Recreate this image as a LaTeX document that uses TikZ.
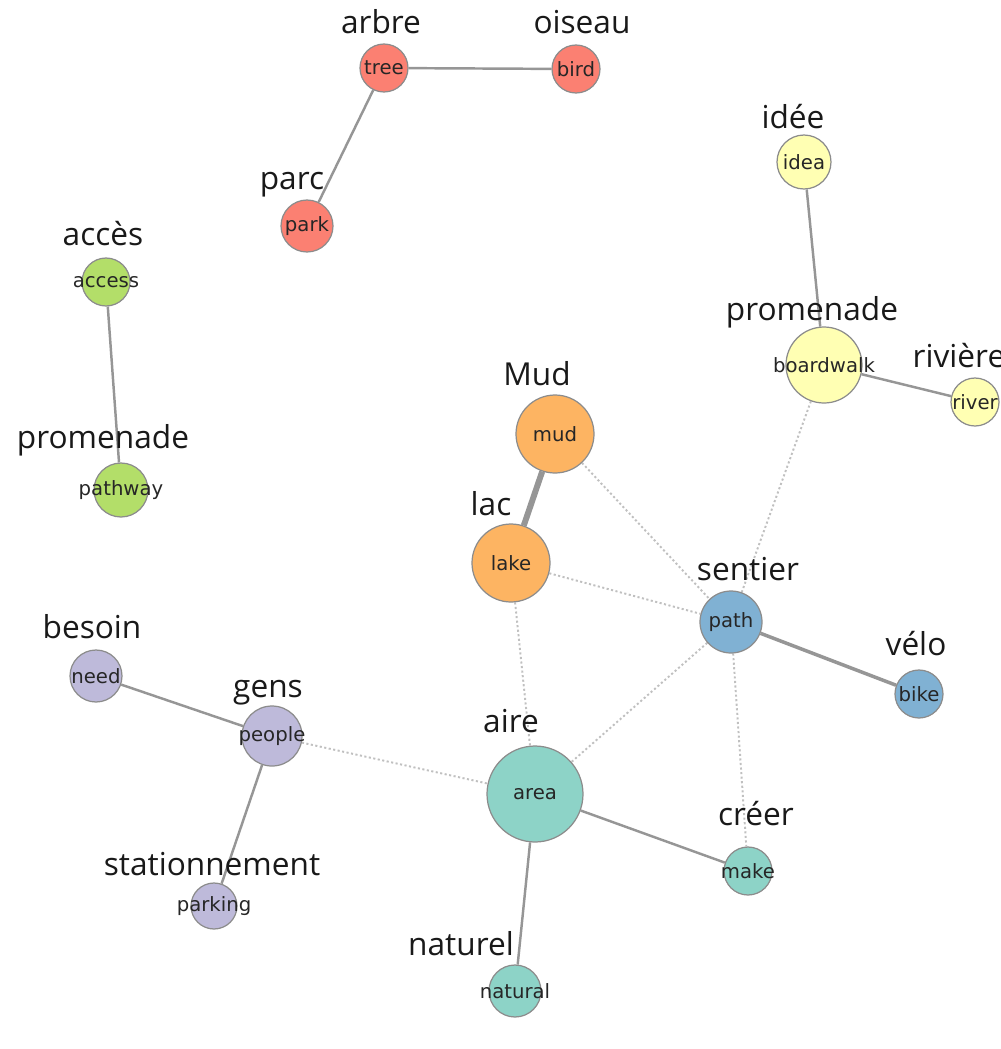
\documentclass[tikz,border=0pt]{standalone}
\usepackage{fontspec}
\setmainfont{Open Sans}
\newfontfamily\innerfont{DejaVu Sans}
\usetikzlibrary{backgrounds}
\definecolor{setred}{HTML}{FB8072}
\definecolor{setyellow}{HTML}{FFFFB3}
\definecolor{setorange}{HTML}{FDB462}
\definecolor{setblue}{HTML}{80B1D3}
\definecolor{setgreen}{HTML}{B3DE69}
\definecolor{setlilac}{HTML}{BEBADA}
\definecolor{setteal}{HTML}{8DD3C7}
\definecolor{edgegray}{RGB}{150,150,150}
\definecolor{weakgray}{RGB}{192,192,192}
\tikzset{
	px/.style={x=0.02cm,y=-0.02cm},
	term/.style={circle, draw=black!45, line width=0.7pt, inner sep=0pt},
	termtext/.style={inner sep=0pt, text=black!85, font=\innerfont\fontsize{11.2}{12}\selectfont},
	word/.style={anchor=base, inner sep=0pt, text=black!90, font=\fontsize{18}{20}\selectfont},
	link/.style={edgegray, line width=1.4pt},
	link strong/.style={edgegray, line width=3.4pt},
	link weak/.style={weakgray, line width=1.1pt, dash pattern=on 1.2pt off 1.4pt}
}

\begin{document}
\begin{tikzpicture}[px]

	\useasboundingbox (0,0) rectangle (1001,1049);

	% word nodes
	\foreach \nm/\txt/\x/\y/\r/\col in {
		tree/tree/384/68/24/setred, bird/bird/576/69/24/setred, park/park/307/226/26/setred,
		access/access/106/282/24/setgreen, pathway/pathway/121/490/27/setgreen,
		idea/idea/804/162/27/setyellow, boardwalk/boardwalk/824/365/38/setyellow, river/river/975/402/24/setyellow,
		mud/mud/555/434/39/setorange, lake/lake/511/563/39/setorange,
		path/path/731/622/31/setblue, bike/bike/919/694/24/setblue,
		need/need/96/676/26/setlilac, people/people/272/736/30/setlilac, parking/parking/214/906/23/setlilac,
		area/area/535/794/48/setteal, make/make/748/871/24/setteal, natural/natural/515/991/26/setteal}
	{
		\node[term, fill=\col, minimum size=2*\r*0.02cm, label={[termtext]center:\txt}] (\nm) at (\x,\y) {};
	}

	% french labels
	\foreach \nm/\txt/\x/\y in {
		arbre/arbre/381/33, oiseau/oiseau/582/33, parc/parc/292/189,
		acces/accès/103/245, promA/promenade/103/448,
		idee/idée/793/128, promB/promenade/812/320, riviere/rivière/959/367,
		mudfr/Mud/537/385, lac/lac/491/515, sentier/sentier/748/580, velo/vélo/916/655,
		besoin/besoin/92/638, gens/gens/268/697, station/stationnement/212/875,
		aire/aire/511/732, creer/créer/756/825, naturel/naturel/461/955}
	{
		\node[word] (\nm-fr) at (\x,\y) {\txt};
	}

	\begin{scope}[on background layer]
		\foreach \a/\b in {tree/bird, tree/park, access/pathway, idea/boardwalk, boardwalk/river,
			need/people, people/parking, area/make, area/natural}
			\draw[link] (\a) -- (\b);
		\draw[link, line width=2pt] (path) -- (bike);
		\draw[link strong] (mud) -- (lake);
		\foreach \a/\b in {boardwalk/path, mud/path, lake/path, lake/area, path/area, path/make, people/area}
			\draw[link weak] (\a) -- (\b);
	\end{scope}

\end{tikzpicture}
\end{document}
